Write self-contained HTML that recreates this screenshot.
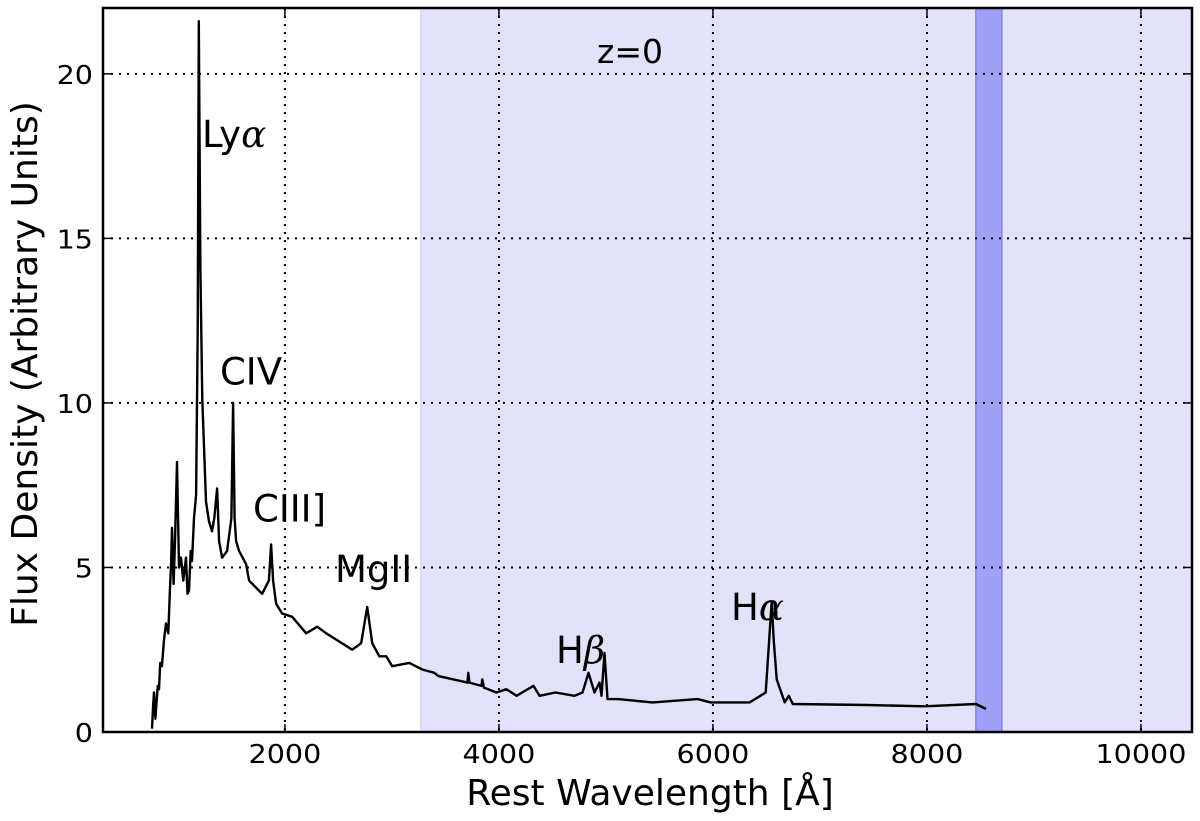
<!DOCTYPE html>
<html><head><meta charset="utf-8"><style>
html,body{margin:0;padding:0;background:#fff;}
svg{display:block;font-family:"DejaVu Sans","Liberation Sans",sans-serif;}
</style></head><body>
<svg id="chart" width="1200" height="821" viewBox="0 0 1200 821" xmlns="http://www.w3.org/2000/svg"></svg>
<script>
const wavelengths=[758,770,777,790,800,812,823,835,850,870,889,910,925,936,945,960,973,992,1010,1029,1050,1076,1090,1104,1120,1132,1150,1170,1185,1195,1210,1228,1263,1291,1319,1340,1366,1385,1413,1460,1500,1516,1530,1544,1572,1637,1665,1787,1850,1871,1890,1918,1974,2068,2199,2302,2386,2629,2713,2769,2816,2882,2947,3003,3162,3284,3396,3434,3705,3714,3724,3836,3845,3860,3976,4070,4164,4323,4379,4528,4706,4781,4837,4893,4940,4959,4987,5015,5109,5436,5857,5979,6344,6493,6549,6568,6596,6671,6709,6746,7438,7981,8458,8552];
const fluxes=[0.1,0.9,1.2,0.4,0.9,1.4,1.3,2.1,2.0,2.8,3.3,3.0,4.3,5.1,6.2,4.5,5.8,8.2,5.0,5.3,4.6,5.3,4.2,4.3,5.5,5.2,6.5,7.2,12.2,21.6,14,10.1,7.0,6.4,6.1,6.5,7.4,5.8,5.3,5.5,6.5,10.0,6.5,5.8,5.5,5.1,4.6,4.2,4.6,5.7,4.6,3.9,3.6,3.5,3.0,3.2,3.0,2.5,2.7,3.8,2.7,2.3,2.3,2.0,2.1,1.9,1.8,1.7,1.5,1.8,1.5,1.4,1.6,1.35,1.2,1.3,1.1,1.4,1.1,1.2,1.1,1.2,1.8,1.2,1.5,1.1,2.4,1.0,1.0,0.9,1.0,0.9,0.9,1.2,3.96,2.8,1.6,0.9,1.1,0.85,0.82,0.78,0.85,0.7];
const xTicks=[2000,4000,6000,8000,10000];
const yTicks=[0,5,10,15,20];
const lineLabelBase=["Ly","CIV","CIII]","MgII","H","H"];
const lineLabelGreek=["\u03b1","","","","\u03b2","\u03b1"];
const lineLabelX=[1225,1393,1702,2468,4533,6169];
const lineLabelY=[17.78,10.56,6.39,4.56,2.10,3.41];
const shadeLight=[3270,10500];
const shadeDark=[8457,8700];

const L=103,R=1192,T=8,B=732,XMIN=300,XMAX=10477,YMIN=0,YMAX=22;
const sx=v=>L+(v-XMIN)/(XMAX-XMIN)*(R-L);
const sy=v=>B-(v-YMIN)/(YMAX-YMIN)*(B-T);
const svg=document.getElementById('chart');
const NS='http://www.w3.org/2000/svg';
function mk(tag,attrs,parent){const e=document.createElementNS(NS,tag);for(const k in attrs)e.setAttribute(k,attrs[k]);(parent||svg).appendChild(e);return e;}

let e=mk('rect',{x:sx(shadeLight[0]),y:T,width:R-sx(shadeLight[0]),height:B-T,fill:'#e2e2fb',stroke:'#c8c8f6','stroke-width':1});


e=mk('rect',{x:sx(shadeDark[0]),y:T,width:sx(shadeDark[1])-sx(shadeDark[0]),height:B-T,fill:'#a0a0f6',stroke:'#8080ee','stroke-width':1.5});



xTicks.forEach(t=>{
  const x=sx(t);
  let g=mk('line',{x1:x,x2:x,y1:T,y2:B,stroke:'#000','stroke-width':2,'stroke-dasharray':'2,6'});
  
  
  mk('line',{x1:x,x2:x,y1:B,y2:B-8,stroke:'#000','stroke-width':1.5});
  mk('line',{x1:x,x2:x,y1:T,y2:T+8,stroke:'#000','stroke-width':1.5});
  let tx=mk('text',{transform:`translate(${x},763) scale(1.1,1)`,'font-size':26,'text-anchor':'middle',fill:'#000'});
  tx.textContent=t;
  
  
});
yTicks.forEach(t=>{
  const y=sy(t);
  if(t>0){let g=mk('line',{x1:L,x2:R,y1:y,y2:y,stroke:'#000','stroke-width':2,'stroke-dasharray':'2,6'});
  
  }
  mk('line',{x1:L,x2:L+8,y1:y,y2:y,stroke:'#000','stroke-width':1.5});
  mk('line',{x1:R,x2:R-8,y1:y,y2:y,stroke:'#000','stroke-width':1.5});
  let tx=mk('text',{transform:`translate(93,${y+10}) scale(1.1,1)`,'font-size':26,'text-anchor':'end',fill:'#000'});
  tx.textContent=t;
  
  
});

let pts=wavelengths.map((w,i)=>sx(w).toFixed(1)+','+sy(fluxes[i]).toFixed(1)).join(' ');
e=mk('polyline',{points:pts,fill:'none',stroke:'#000','stroke-width':2.4,'stroke-linejoin':'round'});



lineLabelBase.forEach((s,i)=>{
  let tx=mk('text',{x:sx(lineLabelX[i]),y:sy(lineLabelY[i]),'font-size':37,fill:'#000'});
  tx.textContent=s;
  if(lineLabelGreek[i]){const ts=mk('tspan',{'font-style':'italic','font-family':'"DejaVu Serif",serif'},tx);ts.textContent=lineLabelGreek[i];}
  
  
});

e=mk('text',{x:630,y:63,'font-size':33,'text-anchor':'middle',fill:'#000'});
e.textContent='z=0';



e=mk('rect',{x:L,y:T,width:R-L,height:B-T,fill:'none',stroke:'#000','stroke-width':2.5});



e=mk('text',{x:650,y:805,'font-size':36,'text-anchor':'middle',fill:'#000'});
e.textContent='Rest Wavelength [\u00c5]';


e=mk('text',{x:0,y:0,'font-size':36,'text-anchor':'middle',fill:'#000',transform:'translate(37,364) rotate(-90)'});
e.textContent='Flux Density (Arbitrary Units)';


</script>
</body></html>
